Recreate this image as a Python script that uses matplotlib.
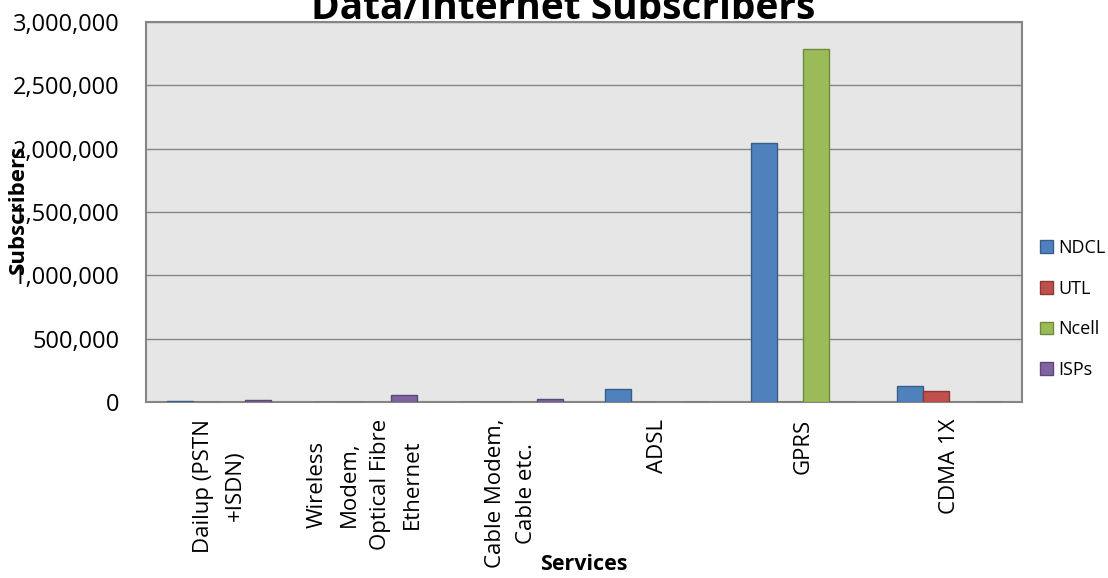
import numpy as np
import matplotlib.pyplot as plt
from matplotlib.ticker import FuncFormatter

plt.rcParams['font.family'] = ['Open Sans', 'DejaVu Sans']

services = ["Dailup (PSTN\n+ISDN)", "Wireless\nModem,\nOptical Fibre\nEthernet",
            "Cable Modem,\nCable etc.", "ADSL", "GPRS", "CDMA 1X"]
ndcl = [5000, 0, 0, 103000, 2045000, 126000]
utl = [0, 0, 0, 0, 0, 87000]
ncell = [0, 0, 0, 0, 2787000, 0]
isps = [12000, 52000, 22000, 0, 0, 0]

series = [("NDCL", ndcl, "#4F81BD", "#385D8A"),
          ("UTL", utl, "#C0504D", "#8C3836"),
          ("Ncell", ncell, "#9BBB59", "#71893F"),
          ("ISPs", isps, "#8064A2", "#5C4776")]

fig = plt.figure(figsize=(11.08, 5.78), dpi=100)
ax = fig.add_axes([0.1318, 0.3045, 0.7906, 0.6575])
ax.set_facecolor("#E6E6E6")

x = np.arange(len(services))
width = 0.178
for i, (name, vals, fc, ec) in enumerate(series):
    ax.bar(x + (i - 1.5) * width, vals, width, label=name,
           color=fc, edgecolor=ec, linewidth=1, zorder=3)

ax.set_xlim(-0.5, len(services) - 0.5)
ax.set_ylim(0, 3000000)
ax.set_yticks(np.arange(0, 3000001, 500000))
ax.yaxis.set_major_formatter(FuncFormatter(lambda v, p: f"{int(v):,}"))
ax.grid(axis="y", color="#868686", linewidth=1, zorder=1)
ax.set_xticks(x)
ax.set_xticklabels(services, rotation=90, ha="center", va="top",
                   multialignment="center", linespacing=1.68)
ax.tick_params(axis="x", length=0, pad=12, labelsize=16)
ax.tick_params(axis="y", length=0, pad=19, labelsize=17)
for s in ax.spines.values():
    s.set_color("#868686")
    s.set_linewidth(1.5)

fig.text(0.017, 0.638, "Subscribers", rotation=90, ha="center", va="center",
         fontsize=16, fontweight="bold")
fig.text(0.527, 1 - 570 / 578, "Services", ha="center", va="baseline",
         fontsize=15.5, fontweight="bold")
fig.text(0.508, 1 - 19 / 578, "Data/Internet Subscribers", ha="center",
         va="baseline", fontsize=28, fontweight="bold")

ax.legend(loc="center left", bbox_to_anchor=(1.0, 0.245), frameon=False,
          fontsize=13, handlelength=0.7, handleheight=0.7, labelspacing=1.25,
          handletextpad=0.3, borderaxespad=0.6)

fig.savefig("out.png", dpi=100)
